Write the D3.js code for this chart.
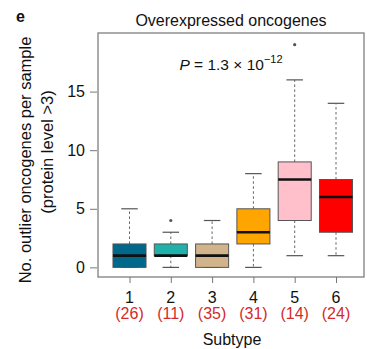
<!DOCTYPE html>
<html>
<head>
<meta charset="utf-8">
<script src="https://cdn.jsdelivr.net/npm/d3@7"></script>
<style>
  body { margin: 0; background: #fff; }
  svg { display: block; font-family: "Liberation Sans", Arial, sans-serif; }
</style>
</head>
<body>
<div id="chart"></div>
<script>
// values
const subtypes = ["1", "2", "3", "4", "5", "6"];
const counts = [26, 11, 35, 31, 14, 24];
const mins = [0, 0, 0, 0, 1, 1];
const q1s = [0, 1, 0, 2, 4, 3];
const medians = [1, 1, 1, 3, 7.5, 6];
const q3s = [2, 2, 2, 5, 9, 7.5];
const maxs = [5, 3, 4, 8, 16, 14];
const outliers = [[], [4], [], [], [19], []];
const colors = ["#00688b", "#20b2aa", "#d2b48c", "#ffa500", "#ffc0cb", "#ff0000"];
const yTicks = [0, 5, 10, 15];

const width = 367, height = 349;
const frame = { left: 98, right: 364, top: 33, bottom: 277 };

const svg = d3.select("#chart").append("svg")
  .attr("width", width)
  .attr("height", height);

// positions 1..6, R-style padding
const x = d3.scaleLinear().domain([1, 6]).range([129.5, 336]);
const y = d3.scaleLinear().domain([-0.82, 20]).range([frame.bottom, frame.top]);
const step = x(2) - x(1);
const boxW = step * 0.8;

const boxes = subtypes.map((s, i) => ({
  s, i, min: mins[i], q1: q1s[i], med: medians[i], q3: q3s[i], max: maxs[i],
  out: outliers[i], color: colors[i]
}));

const g = svg.selectAll(".box").data(boxes).join("g").attr("class", "box");

// whiskers
g.append("line")
  .attr("x1", d => x(d.i + 1)).attr("x2", d => x(d.i + 1))
  .attr("y1", d => y(d.q3)).attr("y2", d => y(d.max))
  .attr("stroke", "#666").attr("stroke-dasharray", "2.5,2.5");
g.append("line")
  .attr("x1", d => x(d.i + 1)).attr("x2", d => x(d.i + 1))
  .attr("y1", d => y(d.q1)).attr("y2", d => y(d.min))
  .attr("stroke", "#666").attr("stroke-dasharray", "2.5,2.5");

// staples
[d => d.max, d => d.min].forEach(f => {
  g.append("line")
    .attr("x1", d => x(d.i + 1) - boxW / 4).attr("x2", d => x(d.i + 1) + boxW / 4)
    .attr("y1", d => y(f(d))).attr("y2", d => y(f(d)))
    .attr("stroke", "#555").attr("stroke-width", 1.2);
});

g.append("rect")
  .attr("x", d => x(d.i + 1) - boxW / 2)
  .attr("width", boxW)
  .attr("y", d => y(d.q3))
  .attr("height", d => y(d.q1) - y(d.q3))
  .attr("fill", d => d.color)
  .attr("stroke", "#555").attr("stroke-width", 1);

g.append("line")
  .attr("x1", d => x(d.i + 1) - boxW / 2).attr("x2", d => x(d.i + 1) + boxW / 2)
  .attr("y1", d => y(d.med)).attr("y2", d => y(d.med))
  .attr("stroke", "#111").attr("stroke-width", 2.6);

g.selectAll(".out").data(d => d.out.map(v => ({ v, i: d.i }))).join("circle")
  .attr("cx", d => x(d.i + 1)).attr("cy", d => y(d.v))
  .attr("r", 1.6).attr("fill", "#555");

// frame
svg.append("rect")
  .attr("x", frame.left).attr("y", frame.top)
  .attr("width", frame.right - frame.left).attr("height", frame.bottom - frame.top)
  .attr("fill", "none").attr("stroke", "#888").attr("stroke-width", 1.4);

// y axis
const yAxis = svg.append("g")
  .attr("transform", `translate(${frame.left - 1},0)`)
  .call(d3.axisLeft(y).tickValues(yTicks).tickSize(7).tickPadding(5));
yAxis.select(".domain").remove();
yAxis.selectAll("line").attr("stroke", "#777");
yAxis.selectAll("text").attr("font-size", 16).attr("fill", "#111")
  .attr("font-family", "Liberation Sans, Arial, sans-serif");

// x axis
const xAxis = svg.append("g")
  .attr("transform", `translate(0,${frame.bottom})`)
  .call(d3.axisBottom(x).tickValues(d3.range(1, 7)).tickSize(6).tickFormat(() => ""));
xAxis.select(".domain").remove();
xAxis.selectAll("line").attr("stroke", "#777");

svg.selectAll(".xlab").data(subtypes).join("text")
  .attr("x", (d, i) => x(i + 1)).attr("y", 303)
  .attr("text-anchor", "middle").attr("font-size", 16).attr("fill", "#111")
  .text(d => d);
svg.selectAll(".nlab").data(counts).join("text")
  .attr("x", (d, i) => x(i + 1)).attr("y", 319)
  .attr("text-anchor", "middle").attr("font-size", 16).attr("fill", "#d42a2a")
  .text(d => `(${d})`);

svg.append("text")
  .attr("x", 232).attr("y", 345)
  .attr("text-anchor", "middle").attr("font-size", 16).attr("fill", "#111")
  .text("Subtype");

// title and panel letter
svg.append("text")
  .attr("x", 231).attr("y", 26)
  .attr("text-anchor", "middle").attr("font-size", 16).attr("fill", "#111")
  .text("Overexpressed oncogenes");
svg.append("text")
  .attr("x", 16).attr("y", 22)
  .attr("font-size", 16).attr("font-weight", "bold").attr("fill", "#111")
  .text("e");

// p-value
const p = svg.append("text")
  .attr("x", 231).attr("y", 70)
  .attr("text-anchor", "middle").attr("font-size", 15.5).attr("fill", "#111");
p.append("tspan").attr("font-style", "italic").text("P");
p.append("tspan").text(" = 1.3 \u00d7 10");
p.append("tspan").attr("font-size", 11).attr("dy", -7).text("\u221212");

// y label
const ylab = svg.append("text")
  .attr("transform", "translate(0,160) rotate(-90)")
  .attr("text-anchor", "middle").attr("font-size", 16.5).attr("fill", "#111");
ylab.append("tspan").attr("x", 0).attr("y", 31).text("No. outlier oncogenes per sample");
ylab.append("tspan").attr("x", 8).attr("y", 53).text("(protein level >3)");
</script>
</body>
</html>
